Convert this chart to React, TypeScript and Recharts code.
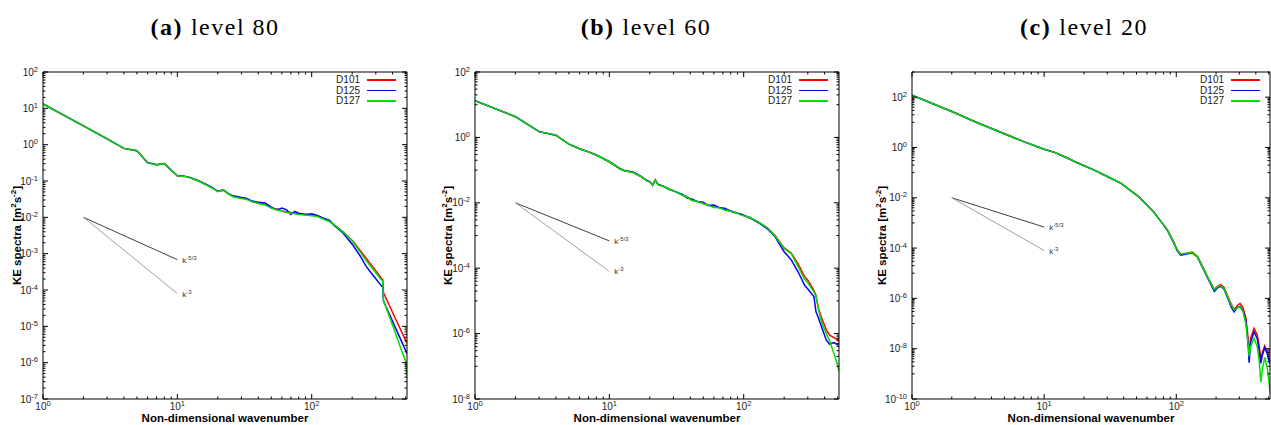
import React from 'react';
import { LineChart, Line, XAxis, YAxis, Legend, LabelList } from 'recharts';

// ---------- data ----------
const SERIES_NAMES = ['D101', 'D125', 'D127'];
const SERIES_COLORS = ['#ff0000', '#0000ff', '#00dd00'];
const PANEL_TAGS = ['(a)', '(b)', '(c)'];
const PANEL_LEVELS = ['level 80', 'level 60', 'level 20'];
const X_LABEL = 'Non-dimensional wavenumber';

const X_MAJOR_EXPONENTS = [0, 1, 2];
const MINOR_MULTIPLIERS = [2, 3, 4, 5, 6, 7, 8, 9];
const ALL_MULTIPLIERS = [1, 2, 3, 4, 5, 6, 7, 8, 9];

// panel (a) level 80
const A_K = [1, 2, 3, 4, 5, 6, 7, 8, 9, 10, 11, 12, 14, 16, 18, 20, 22, 24, 26, 30, 33, 36, 40, 45, 50, 55, 60, 65, 70, 75, 80, 90, 100, 110, 120, 136, 150, 171, 203, 230, 255, 290, 330, 338, 342, 400, 460, 500, 512];
const A_D101 = [13.2, 3.3, 1.45, 0.79, 0.68, 0.32, 0.28, 0.30, 0.2, 0.14, 0.135, 0.13, 0.105, 0.082, 0.067, 0.052, 0.057, 0.044, 0.038, 0.034, 0.032, 0.027, 0.025, 0.023, 0.018, 0.017, 0.015, 0.014, 0.0135, 0.013, 0.0125, 0.012, 0.0115, 0.011, 0.0095, 0.0076, 0.0058, 0.004, 0.0022, 0.0012, 7.4e-4, 4.0e-4, 2.1e-4, 1.9e-4, 8.5e-5, 2.4e-5, 7.9e-6, 4.1e-6, 3.4e-6];
const A_D125 = [13.2, 3.3, 1.45, 0.79, 0.68, 0.32, 0.28, 0.30, 0.2, 0.14, 0.137, 0.13, 0.107, 0.084, 0.068, 0.052, 0.056, 0.045, 0.039, 0.035, 0.033, 0.028, 0.026, 0.025, 0.019, 0.016, 0.018, 0.016, 0.012, 0.0145, 0.013, 0.012, 0.0125, 0.0112, 0.0098, 0.0082, 0.0056, 0.0037, 0.0017, 8.5e-4, 4.4e-4, 2.4e-4, 1.3e-4, 1.2e-4, 5.0e-5, 1.37e-5, 4.3e-6, 2.2e-6, 1.8e-6];
const A_D127 = [13.2, 3.3, 1.45, 0.79, 0.68, 0.32, 0.28, 0.30, 0.2, 0.14, 0.135, 0.13, 0.105, 0.082, 0.066, 0.051, 0.057, 0.044, 0.037, 0.033, 0.031, 0.027, 0.024, 0.022, 0.018, 0.016, 0.015, 0.0135, 0.013, 0.0125, 0.012, 0.0115, 0.011, 0.0105, 0.0092, 0.0077, 0.0059, 0.004, 0.0021, 0.0011, 6.4e-4, 3.5e-4, 1.9e-4, 1.8e-4, 5.2e-5, 1.07e-5, 2.5e-6, 1.1e-6, 4.0e-7];

// panel (b) level 60
const B_K = [1, 2, 3, 4, 5, 6, 7, 8, 10, 12, 13, 15, 17, 19, 20, 21, 22, 23, 25, 28, 31, 35, 38, 41, 45, 50, 54, 60, 66, 72, 80, 88, 96, 110, 128, 150, 170, 200, 226, 255, 284, 300, 333, 345, 360, 380, 412, 436, 470, 500, 512];
const B_D101 = [13.2, 4.3, 1.5, 1.17, 0.62, 0.45, 0.36, 0.29, 0.18, 0.11, 0.096, 0.085, 0.065, 0.048, 0.044, 0.034, 0.05, 0.036, 0.032, 0.026, 0.022, 0.017, 0.015, 0.012, 0.011, 0.0095, 0.0085, 0.0075, 0.0072, 0.0063, 0.0055, 0.005, 0.0043, 0.0036, 0.0026, 0.0017, 0.00104, 4.2e-4, 2.9e-4, 1.3e-4, 5.5e-5, 4.3e-5, 2.1e-5, 1.5e-5, 6e-6, 3e-6, 1.3e-6, 9e-7, 7.5e-7, 6.5e-7, 6.3e-7];
const B_D125 = [13.2, 4.3, 1.5, 1.17, 0.62, 0.45, 0.36, 0.29, 0.18, 0.11, 0.096, 0.087, 0.066, 0.048, 0.044, 0.035, 0.049, 0.037, 0.033, 0.026, 0.022, 0.018, 0.014, 0.013, 0.011, 0.0105, 0.0083, 0.0085, 0.007, 0.0068, 0.0056, 0.0049, 0.0045, 0.0035, 0.0025, 0.0016, 9.5e-4, 3.2e-4, 1.8e-4, 7.5e-5, 3e-5, 2.3e-5, 1.35e-5, 4.7e-6, 3e-6, 1.6e-6, 6.3e-7, 4.8e-7, 5.3e-7, 4.5e-7, 4.3e-7];
const B_D127 = [13.2, 4.3, 1.5, 1.17, 0.62, 0.45, 0.36, 0.29, 0.18, 0.11, 0.096, 0.085, 0.065, 0.047, 0.043, 0.034, 0.05, 0.036, 0.032, 0.026, 0.022, 0.017, 0.015, 0.012, 0.011, 0.0095, 0.0085, 0.0072, 0.007, 0.006, 0.0055, 0.005, 0.0042, 0.0036, 0.0026, 0.0017, 0.001, 4.0e-4, 2.8e-4, 1.1e-4, 4.6e-5, 3.6e-5, 1.9e-5, 1.4e-5, 5.5e-6, 2.2e-6, 1.0e-6, 6e-7, 2.4e-7, 1.1e-7, 7e-8];

// panel (c) level 20
const C_K = [1, 2, 3, 5, 7, 10, 12, 15, 18, 24, 30, 38, 51, 60, 68, 78, 86, 95, 102, 108, 120, 132, 145, 162, 180, 194, 205, 217, 230, 244, 260, 274, 290, 304, 320, 336, 350, 356, 365, 388, 410, 425, 436, 448, 467, 490, 505, 512];
const C_D101 = [121, 27, 10.5, 3.5, 1.7, 0.85, 0.64, 0.38, 0.24, 0.125, 0.07, 0.038, 0.012, 0.0052, 0.0026, 0.001, 5.1e-4, 1.9e-4, 8.4e-5, 5.8e-5, 6.3e-5, 6.9e-5, 4.6e-5, 1.4e-5, 4.7e-6, 2.3e-6, 3.0e-6, 3.5e-6, 2.7e-6, 1.3e-6, 6e-7, 3.6e-7, 5.2e-7, 6.3e-7, 4.2e-7, 1.7e-7, 2.5e-8, 4.5e-9, 2.5e-8, 6.5e-8, 3.5e-8, 1.2e-8, 3.5e-9, 7e-9, 1.3e-8, 7e-9, 3.5e-9, 2.8e-9];
const C_D125 = [121, 27, 10.5, 3.5, 1.7, 0.85, 0.64, 0.38, 0.24, 0.125, 0.07, 0.038, 0.012, 0.0052, 0.0026, 0.001, 4.9e-4, 1.7e-4, 7.5e-5, 5.2e-5, 5.8e-5, 6.5e-5, 4.3e-5, 1.3e-5, 4.2e-6, 1.9e-6, 2.6e-6, 3.0e-6, 2.3e-6, 1.1e-6, 4.6e-7, 2.9e-7, 4.3e-7, 4.8e-7, 3.2e-7, 1.3e-7, 1.5e-8, 2.8e-9, 1.8e-8, 4.7e-8, 2.5e-8, 8e-9, 2.6e-9, 5.5e-9, 1.1e-8, 6e-9, 3e-9, 2.5e-9];
const C_D127 = [121, 27, 10.5, 3.5, 1.7, 0.85, 0.64, 0.38, 0.24, 0.125, 0.07, 0.038, 0.012, 0.0052, 0.0026, 0.001, 5.1e-4, 1.8e-4, 8.2e-5, 5.7e-5, 6.2e-5, 6.8e-5, 4.5e-5, 1.35e-5, 4.6e-6, 2.2e-6, 2.8e-6, 3.2e-6, 2.4e-6, 1.2e-6, 5.5e-7, 3.5e-7, 4.2e-7, 4.6e-7, 3e-7, 1e-7, 1.5e-8, 5e-9, 1.2e-8, 2.6e-8, 1.2e-8, 3e-9, 4.7e-10, 1.5e-9, 4.5e-9, 1.5e-9, 4e-10, 1.7e-10];

// reference slopes
const SLOPE_K = [2, 10];
const SLOPE_53 = [1e-2, 6.84e-4];
const SLOPE_3 = [1e-2, 8e-5];
const SLOPE_LABELS = ['-5/3', '-3'];
const SLOPE_COLORS = ['#404040', '#a0a0a0'];

// ---------- helpers ----------
const SANS = "'Liberation Sans', Arial, Helvetica, sans-serif";
const SERIF = "'Liberation Serif', 'Times New Roman', serif";
const dec = (n: number) => Number(`1e${n}`);

function buildXTicks(maxV: number) {
  const t: number[] = [];
  for (const n of X_MAJOR_EXPONENTS) {
    t.push(dec(n));
    for (const m of MINOR_MULTIPLIERS) {
      const v = m * dec(n);
      if (v <= maxV) t.push(v);
    }
  }
  return t;
}
function buildYTicksEvery(lo: number, hi: number) {
  const t: number[] = [];
  for (let n = lo; n <= hi; n++) {
    t.push(dec(n));
    if (n < hi) for (const m of MINOR_MULTIPLIERS) t.push(m * dec(n));
  }
  return t;
}
function buildYTicksStep2(lo: number, hi: number) {
  const t: number[] = [];
  for (let n = lo; n <= hi; n++) {
    if (n % 2 === 0) t.push(dec(n));
    else for (const m of ALL_MULTIPLIERS) {
      const v = m * dec(n);
      if (v <= dec(hi)) t.push(v);
    }
  }
  return t;
}

const X_TICKS = buildXTicks(512);

function makeTick(side: string, step: number, showLabel: boolean) {
  return (props: any) => {
    const { x, y, payload } = props;
    const v = Number(payload?.value);
    const e = Math.log10(v);
    const r = Math.round(e);
    const major = Math.abs(e - r) < 1e-6 && Math.abs(r % step) === 0;
    const L = major ? 5 : 2.5;
    let x2 = x;
    let y2 = y;
    if (side === 'bottom') y2 = y - L;
    if (side === 'top') y2 = y + L;
    if (side === 'left') x2 = x + L;
    if (side === 'right') x2 = x - L;
    let label = null;
    if (showLabel && major) {
      if (side === 'bottom') {
        label = (
          <text x={x} y={y + 10.5} textAnchor="middle" fontFamily={SANS} fontSize={10} fill="#222">
            10<tspan dy={-4} fontSize={7.5}>{r}</tspan>
          </text>
        );
      } else {
        label = (
          <text x={x - 5} y={y + 3.5} textAnchor="end" fontFamily={SANS} fontSize={10} fill="#222">
            10<tspan dy={-4} fontSize={7.5}>{r}</tspan>
          </text>
        );
      }
    }
    return (
      <g>
        <line x1={x} y1={y} x2={x2} y2={y2} stroke="#000" strokeWidth={1} />
        {label}
      </g>
    );
  };
}

const slopeLabel = (txt: string) => (p: any) => {
  if (p.index !== 1) return null;
  const vb = p.viewBox || {};
  const x = p.x ?? vb.x;
  const y = p.y ?? vb.y;
  return (
    <text x={x + 5} y={y + 3} fontFamily={SANS} fontSize={8} fill="#333" stroke="none">
      k<tspan dy={-3} fontSize={6}>{txt}</tspan>
    </text>
  );
};

const LegendBox = () => (
  <div style={{ fontFamily: SANS, fontSize: 10, color: '#222' }}>
    {SERIES_NAMES.map((n, i) => (
      <div key={n} style={{ display: 'flex', alignItems: 'center', justifyContent: 'flex-end', height: 10.5 }}>
        <span style={{ lineHeight: '10px' }}>{n}</span>
        <span style={{ display: 'inline-block', width: 29, height: 1.5, marginLeft: 7, background: SERIES_COLORS[i] }} />
      </div>
    ))}
  </div>
);

type PanelProps = {
  left: number; width: number; plotLeft: number; plotRight: number;
  k: number[]; s: number[][]; yDomain: number[]; yTicks: number[]; yStep: number; legendRight: number;
};

const AX = 1; // thickness reserved for each axis band

function Panel({ left, width, plotLeft, plotRight, k, s, yDomain, yTicks, yStep, legendRight }: PanelProps) {
  const data = k.map((kk, i) => ({ k: kk, D101: s[0][i], D125: s[1][i], D127: s[2][i] }));
  const slope53 = SLOPE_K.map((kk, i) => ({ k: kk, v: SLOPE_53[i] }));
  const slope3 = SLOPE_K.map((kk, i) => ({ k: kk, v: SLOPE_3[i] }));
  const margin = {
    top: 72 - AX,
    bottom: 425 - 399 - AX,
    left: plotLeft - left - AX,
    right: left + width - plotRight - AX,
  };
  const axisLine = { stroke: '#000', strokeWidth: 1 };
  return (
    <div style={{ position: 'absolute', left, top: 0 }}>
      <LineChart width={width} height={425} data={data} margin={margin}>
        <XAxis xAxisId="b" orientation="bottom" dataKey="k" type="number" scale="log" domain={[1, 512]} allowDataOverflow
          ticks={X_TICKS} interval={0} height={AX} tickSize={0} tickMargin={0} tickLine={false} axisLine={axisLine}
          tick={makeTick('bottom', 1, true)} />
        <XAxis xAxisId="t" orientation="top" dataKey="k" type="number" scale="log" domain={[1, 512]} allowDataOverflow
          ticks={X_TICKS} interval={0} height={AX} tickSize={0} tickMargin={0} tickLine={false} axisLine={axisLine}
          tick={makeTick('top', 1, false)} />
        <YAxis yAxisId="l" orientation="left" type="number" scale="log" domain={yDomain} allowDataOverflow
          ticks={yTicks} interval={0} width={AX} tickSize={0} tickMargin={0} tickLine={false} axisLine={axisLine}
          tick={makeTick('left', yStep, true)} />
        <YAxis yAxisId="r" orientation="right" type="number" scale="log" domain={yDomain} allowDataOverflow
          ticks={yTicks} interval={0} width={AX} tickSize={0} tickMargin={0} tickLine={false} axisLine={axisLine}
          tick={makeTick('right', yStep, false)} />
        <Line xAxisId="b" yAxisId="l" data={slope53} dataKey="v" stroke={SLOPE_COLORS[0]} strokeWidth={1}
          dot={false} activeDot={false} legendType="none" isAnimationActive={false}>
          <LabelList dataKey="v" content={slopeLabel(SLOPE_LABELS[0])} />
        </Line>
        <Line xAxisId="b" yAxisId="l" data={slope3} dataKey="v" stroke={SLOPE_COLORS[1]} strokeWidth={1}
          dot={false} activeDot={false} legendType="none" isAnimationActive={false}>
          <LabelList dataKey="v" content={slopeLabel(SLOPE_LABELS[1])} />
        </Line>
        {SERIES_NAMES.map((n, i) => (
          <Line key={n} xAxisId="b" yAxisId="l" dataKey={n} name={n} stroke={SERIES_COLORS[i]} strokeWidth={1.5}
            dot={false} activeDot={false} isAnimationActive={false} />
        ))}
        <Legend layout="vertical" align="center" verticalAlign="middle" content={() => <LegendBox />}
          wrapperStyle={{ position: 'absolute', top: 74.75, right: legendRight, left: 'auto', width: 'auto', height: 'auto' }} />
      </LineChart>
    </div>
  );
}

const TITLE_X = [215, 646, 1084];
const YLABEL_X = [17, 448, 882];
const XLABEL_X = [225, 657, 1091];

export default function App() {
  return (
    <div style={{ position: 'absolute', left: 0, top: 0, width: 1271, height: 425, background: '#fff', overflow: 'hidden' }}>
      <Panel left={0} width={430} plotLeft={43} plotRight={407} k={A_K} s={[A_D101, A_D125, A_D127]}
        yDomain={[1e-7, 1e2]} yTicks={buildYTicksEvery(-7, 2)} yStep={1} legendRight={34} />
      <Panel left={430} width={430} plotLeft={475} plotRight={839} k={B_K} s={[B_D101, B_D125, B_D127]}
        yDomain={[1e-8, 1e2]} yTicks={buildYTicksStep2(-8, 2)} yStep={2} legendRight={32} />
      <Panel left={860} width={411} plotLeft={912} plotRight={1270} k={C_K} s={[C_D101, C_D125, C_D127]}
        yDomain={[1e-10, 1e3]} yTicks={buildYTicksStep2(-10, 3)} yStep={2} legendRight={11} />
      <svg width={1271} height={425} style={{ position: 'absolute', left: 0, top: 0, pointerEvents: 'none' }}>
        {PANEL_TAGS.map((t, i) => (
          <text key={t} x={TITLE_X[i]} y={35} textAnchor="middle" fontFamily={SERIF} fontSize={24} letterSpacing={1.5} fill="#000">
            <tspan fontWeight="bold">{t}</tspan>
            <tspan dx={8}>{PANEL_LEVELS[i]}</tspan>
          </text>
        ))}
        {YLABEL_X.map((x, i) => (
          <text key={'y' + i} x={x} y={235.5} transform={`rotate(-90, ${x}, 235.5)`} textAnchor="middle"
            dominantBaseline="central" fontFamily={SANS} fontSize={11.5} fontWeight="bold" fill="#000">
            KE spectra [m<tspan dy={-4} fontSize={8}>2</tspan><tspan dy={4}>s</tspan><tspan dy={-4} fontSize={8}>-2</tspan><tspan dy={4}>]</tspan>
          </text>
        ))}
        {XLABEL_X.map((x, i) => (
          <text key={'x' + i} x={x} y={422} textAnchor="middle" fontFamily={SANS} fontSize={11.5} fontWeight="bold" fill="#000">
            {X_LABEL}
          </text>
        ))}
      </svg>
    </div>
  );
}
